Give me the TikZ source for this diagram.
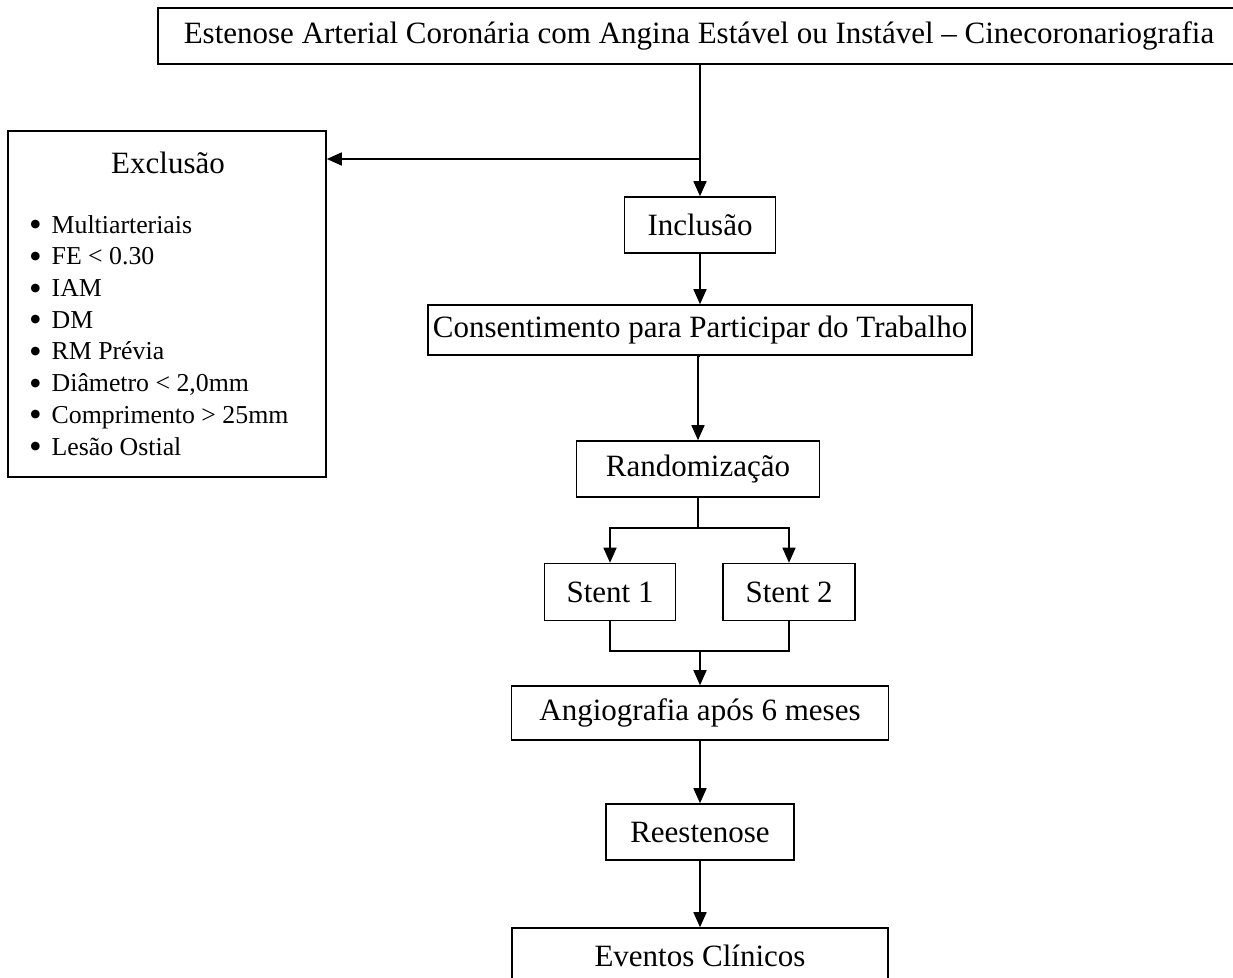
\documentclass[tikz,border=0pt]{standalone}
\usepackage{fontspec}
\setmainfont{Liberation Serif}
\usepackage{xcolor}
\usepackage{tikz}
\usetikzlibrary{calc,arrows.meta}
\definecolor{ink}{HTML}{000000}
\definecolor{paper}{HTML}{FFFFFF}
\tikzset{
  box/.style={draw=ink, line width=1.6pt, fill=paper, inner sep=0pt,
    font=\fontsize{31}{37}\selectfont},
  link/.style={draw=ink, line width=1.6pt},
  arr/.style={link, -{Triangle[length=15pt,width=13pt]}},
  lab/.style={text=ink, font=\fontsize{31}{37}\selectfont},
  itm/.style={text=ink, font=\fontsize{25.8}{31.7}\selectfont, align=left, inner sep=0pt},
}
\newcommand{\itembul}[1]{\makebox[22.5pt][l]{\smash{\raisebox{-3.5pt}{\scalebox{1.4}{\textbullet}}}}#1}

\begin{document}
\begin{tikzpicture}[x=1pt,y=-1pt]
  \useasboundingbox[fill=paper] (0,0) rectangle (1233,977);

  % main column
  \node[box, minimum width=1082, minimum height=56] (top) at (699,36)
    {Estenose Arterial Coronária com Angina Estável ou Instável -- Cinecoronariografia};
  \node[box, minimum width=151, minimum height=56] (incl) at (700,225) {Inclusão};
  \node[box, minimum width=544, minimum height=50] (cons) at (700,330)
    {Consentimento para Participar do Trabalho};
  \node[box, minimum width=243, minimum height=56] (rand) at (698,469) {Randomização};
  \node[box, minimum width=131, minimum height=57] (stA) at (610,592) {Stent 1};
  \node[box, minimum width=132, minimum height=57] (stB) at (789,592) {Stent 2};
  \node[box, minimum width=377, minimum height=54] (ang) at (700,713) {Angiografia após 6 meses};
  \node[box, minimum width=188, minimum height=56] (rees) at (700,832) {Reestenose};
  \node[box, minimum width=376, minimum height=56] (evt) at (700,956) {Eventos Clínicos};

  % exclusion box
  \node[box, minimum width=318, minimum height=346] (excl) at (167,304) {};
  \node[lab] (exct) at (168,163) {Exclusão};
  \node[itm, anchor=north west] (exlist) at (29,215) {%
    \itembul{Multiarteriais}\\
    \itembul{FE < 0.30}\\
    \itembul{IAM}\\
    \itembul{DM}\\
    \itembul{RM Prévia}\\
    \itembul{Diâmetro < 2,0mm}\\
    \itembul{Comprimento > 25mm}\\
    \itembul{Lesão Ostial}};

  % connectors
  \coordinate (split) at (700,159);
  \coordinate (fork) at (698,528);
  \coordinate (join) at (700,651);
  \draw[arr] (top.south -| incl) -- (incl.north);
  \draw[arr] (split) -- (split -| excl.east);
  \draw[arr] (incl.south) -- (cons.north);
  \draw[arr] (cons.south) -- (cons.south -| rand) -- (rand.north);
  \draw[link] (rand.south) -- (fork);
  \draw[arr] (fork) -| (stA.north);
  \draw[arr] (fork) -| (stB.north);
  \draw[link] (stA.south) |- (join);
  \draw[link] (stB.south) |- (join);
  \draw[arr] (join) -- (ang.north);
  \draw[arr] (ang.south) -- (rees.north);
  \draw[arr] (rees.south) -- (evt.north);
\end{tikzpicture}
\end{document}
